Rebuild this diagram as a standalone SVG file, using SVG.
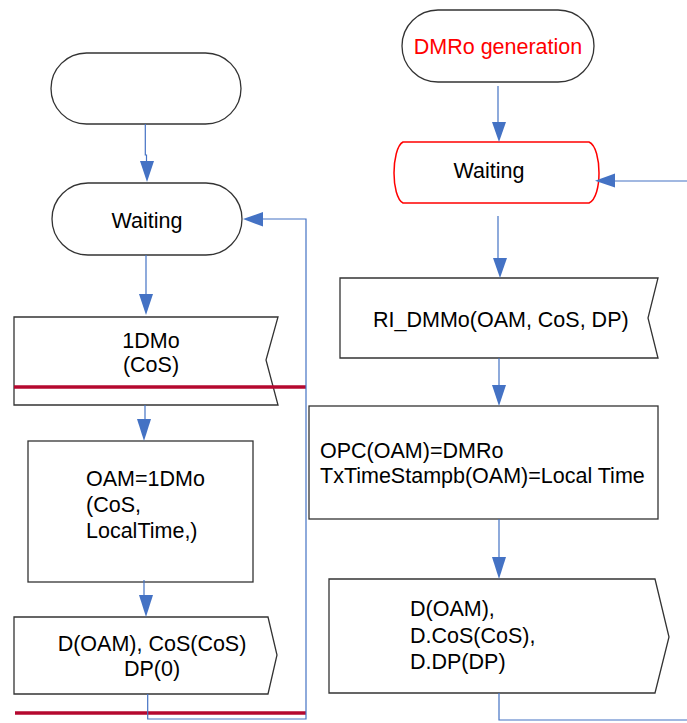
<svg xmlns="http://www.w3.org/2000/svg" width="687" height="723" viewBox="0 0 687 723">
<style>
.shape{fill:#fff;stroke:#333;stroke-width:1.3}
.red{fill:#fff;stroke:#f00;stroke-width:1.5}
.t{font-family:"Liberation Sans",Arial,sans-serif;font-size:21.5px;fill:#000}
.c{text-anchor:middle}
.conn{fill:none;stroke:#4472C4;stroke-width:1.2}
.bar{stroke:#B5082F;stroke-width:3.5}
.ah{fill:#4472C4}
</style>
<rect width="687" height="723" fill="#fff"/>
<g id="start">
<rect class="shape" x="51" y="53" width="190" height="71" rx="35.5"/>
</g>
<g id="waiting-left">
<rect class="shape" x="52" y="183" width="190" height="72" rx="36"/>
<text class="t c" x="147" y="228">Waiting</text>
</g>
<g id="rx-1dmo">
<path class="shape" d="M14,317 H278 L266,360 L278,405 H14 Z"/>
<text class="t c" x="151" y="348">1DMo</text>
<text class="t c" x="151" y="372">(CoS)</text>
</g>
<g id="oam-assign">
<rect class="shape" x="28" y="441" width="225" height="141"/>
<text class="t" x="86" y="486">OAM=1DMo</text>
<text class="t" x="86" y="512">(CoS,</text>
<text class="t" x="86" y="538">LocalTime,)</text>
</g>
<g id="tx-d-left">
<path class="shape" d="M14,617 H268 L277,655 L268,694 H14 Z"/>
<text class="t c" x="152" y="651">D(OAM), CoS(CoS)</text>
<text class="t c" x="152" y="676">DP(0)</text>
</g>
<g id="dmro-gen">
<rect class="shape" x="402" y="10" width="192" height="72" rx="36"/>
<text class="t c" x="498" y="54" style="fill:#f00">DMRo generation</text>
</g>
<g id="waiting-right">
<path class="red" d="M403,142 H589 C596,145 599,160 599,173 C599,186 596,200 589,203 H403 C397,200 394,186 394,173 C394,160 397,145 403,142 Z"/>
<text class="t c" x="489" y="178">Waiting</text>
</g>
<g id="rx-dmmo">
<path class="shape" d="M340,278 H658 L648,318 L658,358 H340 Z"/>
<text class="t" x="373" y="327">RI_DMMo(OAM, CoS, DP)</text>
</g>
<g id="opc-assign">
<rect class="shape" x="309" y="406" width="349" height="113"/>
<text class="t" x="320" y="458">OPC(OAM)=DMRo</text>
<text class="t" x="320" y="483">TxTimeStampb(OAM)=Local Time</text>
</g>
<g id="tx-d-right">
<path class="shape" d="M329,579 H655 L669,637 L655,693 H329 Z"/>
<text class="t" x="410" y="616">D(OAM),</text>
<text class="t" x="410" y="643">D.CoS(CoS),</text>
<text class="t" x="410" y="669">D.DP(DP)</text>
</g>
<g id="bars">
<line class="bar" x1="14" y1="387" x2="306" y2="387"/>
<line class="bar" x1="15" y1="713" x2="306" y2="713"/>
</g>
<g id="connectors">
<polyline class="conn" points="145.3,124 145.3,155 146.5,155 146.5,162"/>
<polygon class="ah" points="140,161 154,161 147,182"/>
<line class="conn" x1="146" y1="255" x2="146" y2="295"/>
<polygon class="ah" points="139,294 153,294 146,315"/>
<line class="conn" x1="145" y1="405" x2="145" y2="420"/>
<polygon class="ah" points="137,419 151,419 144,441"/>
<line class="conn" x1="144" y1="580" x2="144" y2="596"/>
<polygon class="ah" points="139,595 153,595 146,617"/>
<polyline class="conn" points="147.7,694 147.7,719 306,719 306,219 262,219"/>
<polygon class="ah" points="263,212 263,226.5 243,219"/>
<line class="conn" x1="498" y1="86" x2="498" y2="123"/>
<polygon class="ah" points="492,122 506,122 499,142"/>
<line class="conn" x1="687" y1="181" x2="614" y2="181"/>
<polygon class="ah" points="615,173.5 615,187.5 595,180.7"/>
<line class="conn" x1="498" y1="216" x2="498" y2="259"/>
<polygon class="ah" points="493,258 507,258 500,278"/>
<line class="conn" x1="499" y1="358" x2="499" y2="386"/>
<polygon class="ah" points="492,385 506,385 499,406"/>
<line class="conn" x1="499" y1="519" x2="499" y2="558"/>
<polygon class="ah" points="492,557 506,557 499,579"/>
<polyline class="conn" points="499,693 499,720 687,720"/>
</g>
</svg>
